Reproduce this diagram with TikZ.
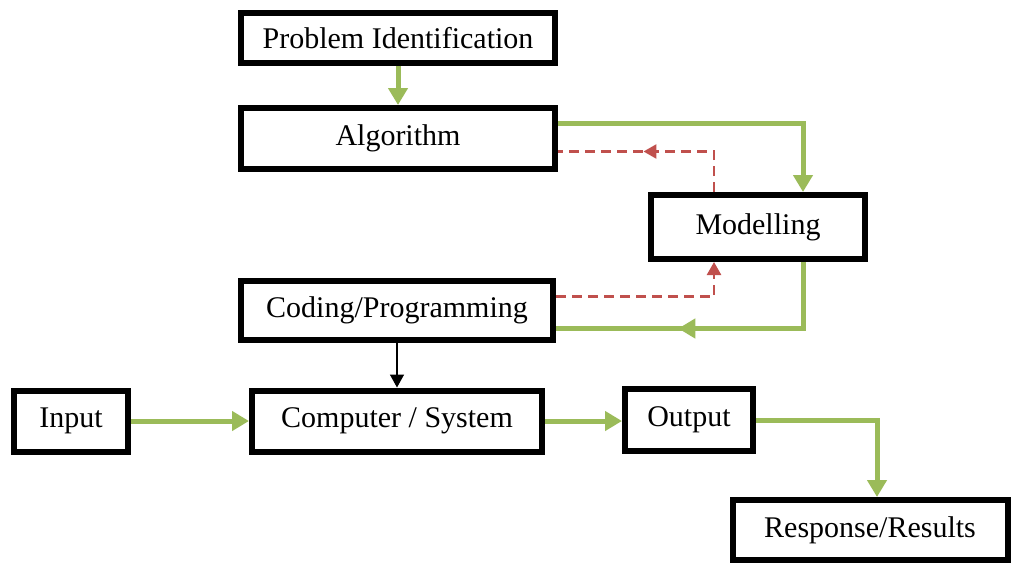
\documentclass[tikz,border=0pt]{standalone}
\usepackage{fontspec}
\setmainfont{Liberation Serif}
\usepackage{xcolor}
\definecolor{flowGreen}{HTML}{9BBB59}
\definecolor{loopRed}{HTML}{C0504D}
\definecolor{blockDark}{HTML}{000000}
\usepackage{tikz}
\usetikzlibrary{arrows.meta,calc,decorations.markings}
\tikzset{
    block/.style={
        draw=blockDark,
        fill=white,
        rectangle,
        line width=3pt,
        align=center,
        inner sep=0pt,
        minimum height=30.5pt,
        font=\fontsize{15}{18}\selectfont
    },
    flow/.style={
        -{Triangle[length=8.5pt,width=9.5pt]},
        line width=2.5pt,
        color=flowGreen
    },
    midflow/.style={
        line width=2.5pt,
        color=flowGreen,
        decoration={markings,
            mark=at position #1 with {\arrow{Triangle[length=8.5pt,width=9.5pt]}}},
        postaction={decorate}
    },
    feedback/.style={
        -{Triangle[length=6.5pt,width=7pt]},
        line width=1.3pt,
        dash pattern=on 5pt off 3pt,
        color=loopRed
    },
    midfeedback/.style={
        line width=1.3pt,
        dash pattern=on 5pt off 3pt,
        color=loopRed,
        decoration={markings,
            mark=at position #1 with {\arrow{Triangle[length=6.5pt,width=7pt]}}},
        postaction={decorate}
    },
    thinarrow/.style={
        -{Triangle[length=6.5pt,width=7pt]},
        line width=0.75pt,
        color=blockDark
    }
}

\begin{document}
\begin{tikzpicture}[x=0.5pt,y=-0.5pt]
    \useasboundingbox (0,0) rectangle (1012,564);

    % Main column
    \node[block, minimum width=157pt, minimum height=25pt] (prob) at (398,38) {Problem Identification};
    \node[block, minimum width=157pt] (algo) at (398,138.5) {Algorithm};
    \node[block, minimum width=107pt, minimum height=32pt] (model) at (758,227) {Modelling};
    \node[block, minimum width=156pt, minimum height=29.5pt] (code) at (397,310.5) {Coding/Programming};

    % System row
    \node[block, minimum width=57pt] (input) at (71,421) {Input};
    \node[block, minimum width=145pt] (comp) at (397,421) {Computer / System};
    \node[block, minimum width=64pt, minimum height=31pt] (output) at (689,420) {Output};
    \node[block, minimum width=137.5pt, minimum height=30pt] (resp) at (870,530) {Response/Results};

    % Forward flow
    \draw[flow] (prob) -- (algo);
    \draw[flow] ($(algo.east)+(0,-15)$) -| ($(model.north)+(45,0)$);
    \draw[midflow=0.61] ($(model.south)+(45,0)$) |- ($(code.east)+(0,18)$);
    \draw[thinarrow] (code) -- (comp);
    \draw[flow] (input) -- (comp);
    \draw[flow] (comp.east) -- (comp.east -| output.west);
    \draw[flow] (output.east) -| ($(resp.north)+(7,0)$);

    % Feedback loops
    \draw[midfeedback=0.565] ($(model.north)+(-44,0)$) |- ($(algo.east)+(0,13)$);
    \draw[feedback] ($(code.east)+(0,-14)$) -| ($(model.south)+(-44,0)$);
\end{tikzpicture}
\end{document}
